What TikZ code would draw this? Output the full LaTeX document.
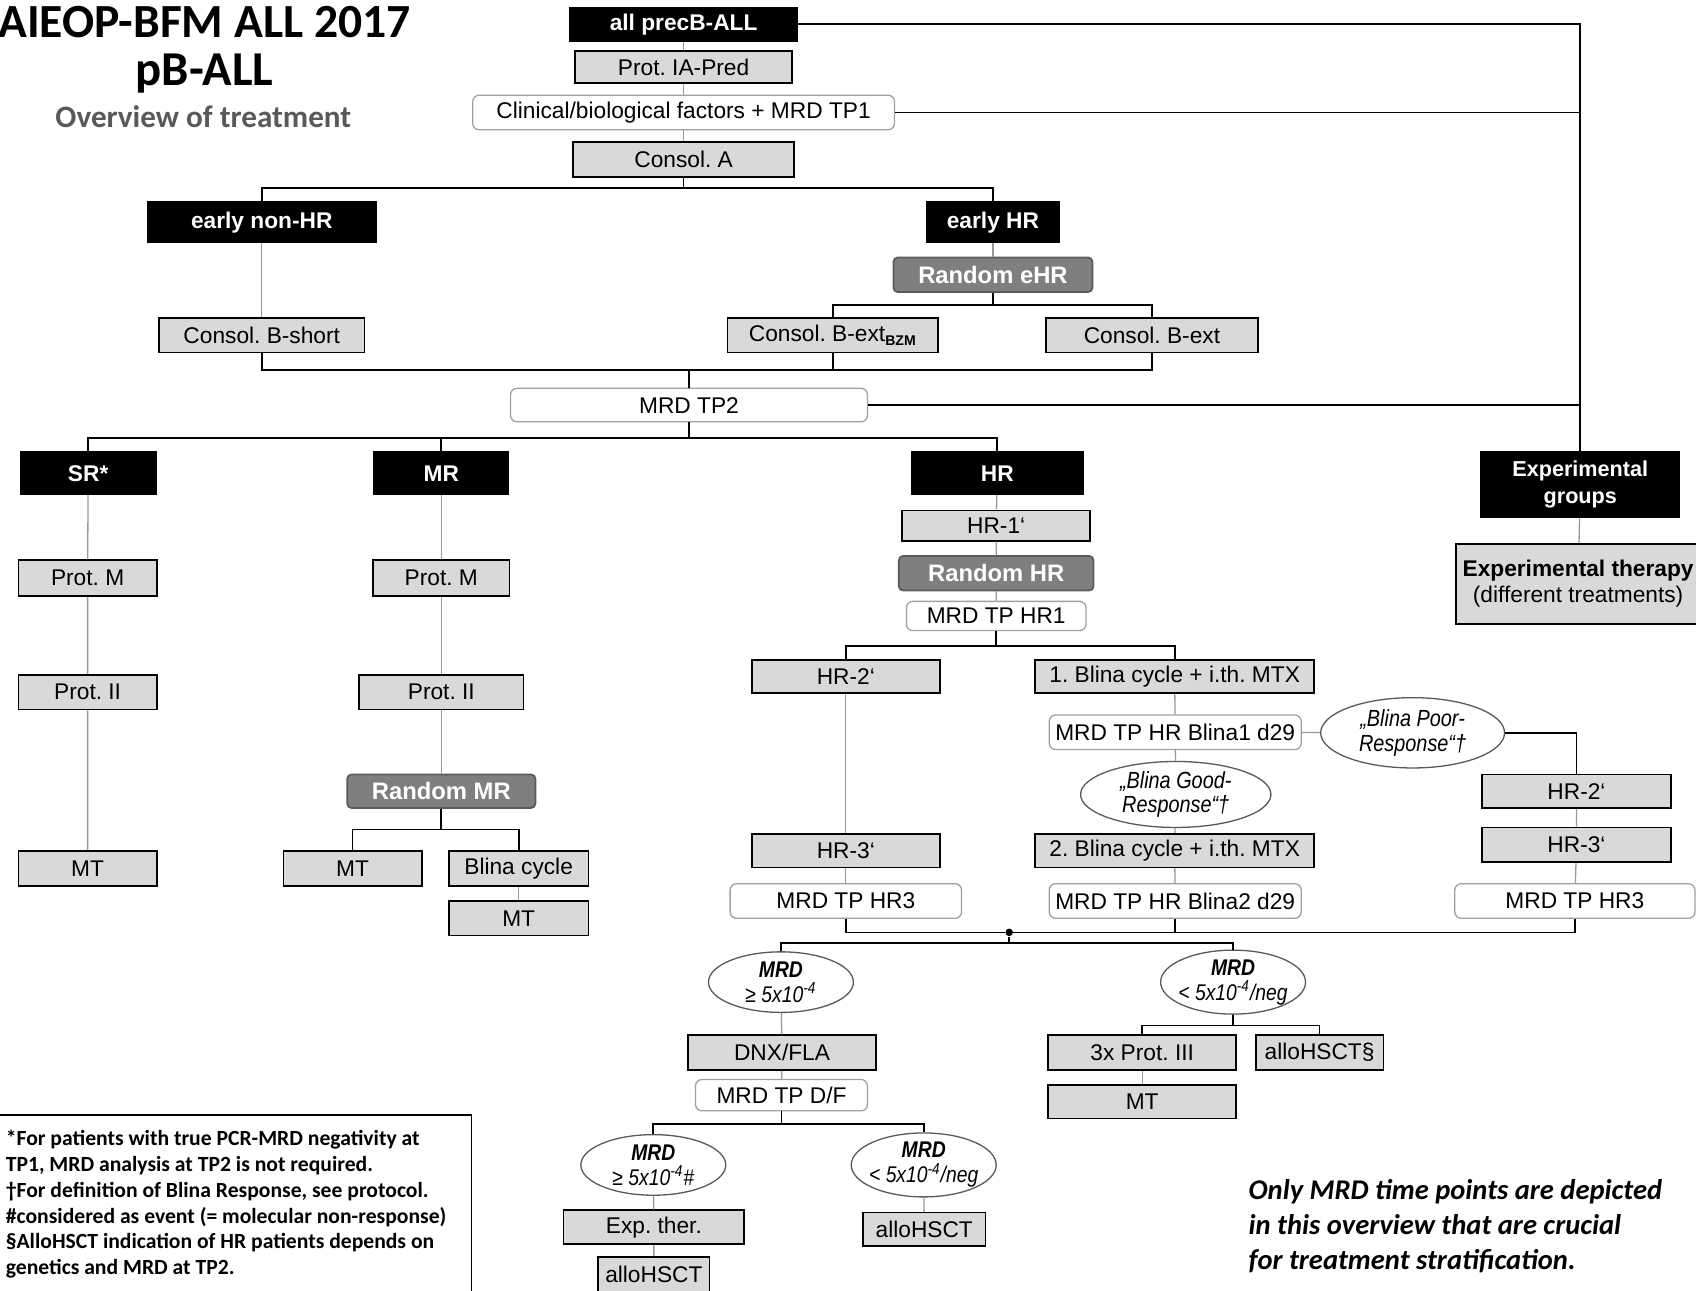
\documentclass[tikz,border=0pt]{standalone}
\usepackage{fontspec}
\setmainfont{Liberation Sans}
\newfontfamily\carlito{Carlito}
\newfontfamily\narrowit[FakeStretch=0.85]{Liberation Sans}
\usetikzlibrary{shapes.geometric}
\frenchspacing

\definecolor{boxgray}{HTML}{D9D9D9}
\definecolor{randgray}{HTML}{7F7F7F}
\definecolor{randedge}{HTML}{5A5A5A}
\definecolor{tpedge}{HTML}{A0A0A0}
\definecolor{titlegray}{HTML}{595959}
\newcommand\bxfont{\fontsize{10.5}{12}\selectfont}

\tikzset{
  gbox/.style={draw=black, line width=0.8pt, fill=boxgray, font=\bxfont, inner sep=0pt,
    minimum height=16pt, minimum width={#1*0.5pt}},
  hbox/.style={gbox=#1, fill=black, text=white, font=\bfseries\bxfont, minimum height=18.5pt},
  rbox/.style={gbox=#1, fill=randgray, draw=randedge, rounded corners=2pt, text=white,
    font=\bfseries\fontsize{11}{13}\selectfont},
  tbox/.style={gbox=#1, fill=white, draw=tpedge, line width=0.6pt, rounded corners=3pt},
  oval/.style={ellipse, draw=black!65, fill=white, line width=0.6pt, inner sep=0pt,
    inner xsep=-6pt, minimum width={#1*0.5pt}, minimum height=28pt, align=center,
    font=\narrowit\itshape\fontsize{10.5}{11.5}\selectfont},
  dot/.style={circle, fill=black, inner sep=0pt, minimum size=3.5pt},
  link/.style={draw=black, line width=0.8pt},
  chain/.style={draw=black!40, line width=0.6pt}
}

\begin{document}
\begin{tikzpicture}[x=0.5pt, y=-0.5pt]
  \useasboundingbox (0,0) rectangle (1568,1193);

  % title
  \node[font=\carlito\bfseries\fontsize{22}{24}\selectfont] (title) at (189,20) {AIEOP-BFM ALL 2017};
  \node[font=\carlito\bfseries\fontsize{22.5}{24}\selectfont] (sub) at (189,68) {pB-ALL};
  \node[font=\carlito\bfseries\fontsize{14.4}{16}\selectfont, text=titlegray] (over) at (188,108) {Overview of treatment};

  % induction and early groups
  \node[hbox=210, minimum height=15.5pt] (all) at (632,22.5) {all precB-ALL};
  \node[gbox=201, minimum height=15pt] (ia) at (632,62) {Prot. IA-Pred};
  \node[tbox=390] (clin) at (632,104) {Clinical/biological factors + MRD TP1};
  \node[gbox=204] (consA) at (632,147.5) {Consol. A};
  \node[hbox=211] (enhr) at (242,205.5) {early non-HR};
  \node[hbox=123] (ehr) at (918,205.5) {early HR};
  \node[rbox=184] (rehr) at (918,254) {Random eHR};
  \node[gbox=190] (bshort) at (242,310) {Consol. B-short};
  \node[gbox=195] (bbzm) at (770,310) {Consol. B-ext\textsubscript{\bfseries\fontsize{6.5}{7}\selectfont BZM}};
  \node[gbox=196] (bext) at (1065,310) {Consol. B-ext};
  \node[tbox=330, minimum height=15.5pt] (tp2) at (637,374.5) {MRD TP2};

  % risk groups
  \node[hbox=125, minimum height=19.5pt] (sr) at (81.5,437.5) {SR*};
  \node[hbox=124, minimum height=19.5pt] (mr) at (408,437.5) {MR};
  \node[hbox=158, minimum height=19.5pt] (hr) at (922,437.5) {HR};
  \node[hbox=183, minimum height=30pt, align=center, font=\bfseries\fontsize{10}{12.5}\selectfont] (expg) at (1461,448) {Experimental\\groups};
  \node[gbox=226, minimum height=37pt, align=center, font=\fontsize{10.5}{12}\selectfont] (expt) at (1459,540) {\bfseries Experimental therapy\\(different treatments)};

  % SR
  \node[gbox=128, minimum height=16.5pt] (srm) at (81,534.5) {Prot. M};
  \node[gbox=128] (sr2) at (81,640) {Prot. II};
  \node[gbox=128] (srmt) at (81,803) {MT};

  % MR
  \node[gbox=126, minimum height=16.5pt] (mrm) at (408,534.5) {Prot. M};
  \node[gbox=152] (mr2) at (408,640) {Prot. II};
  \node[rbox=174, minimum height=15.5pt] (rmr) at (408,731.5) {Random MR};
  \node[gbox=128] (mrmt) at (326,803) {MT};
  \node[gbox=129] (mrbl) at (479.5,803) {Blina cycle};
  \node[gbox=129] (mrmt2) at (479.5,849) {MT};

  % HR
  \node[gbox=174, minimum height=14pt] (hr1) at (921,486) {HR-1‘};
  \node[rbox=180] (rhr) at (921,530) {Random HR};
  \node[tbox=166, minimum height=13.5pt] (tphr1) at (921,569.5) {MRD TP HR1};
  \node[gbox=174, minimum height=15.5pt] (hr2) at (782,625.5) {HR-2‘};
  \node[gbox=258, minimum height=15.5pt] (bl1) at (1086,625.5) {1. Blina cycle + i.th. MTX};
  \node[tbox=233] (tpbl1) at (1086.5,677) {MRD TP HR Blina1 d29};
  \node[oval=176, minimum height=28.5pt, font=\narrowit\itshape\fontsize{10.8}{11.5}\selectfont] (good) at (1087,734.5) {„Blina Good-\\Response“†};
  \node[gbox=258, minimum height=15.5pt] (bl2) at (1086,786.5) {2. Blina cycle + i.th. MTX};
  \node[tbox=233] (tpbl2) at (1086.5,833) {MRD TP HR Blina2 d29};
  \node[gbox=174, minimum height=15.5pt] (hr3) at (782,786.5) {HR-3‘};
  \node[tbox=214] (tphr3) at (782,833) {MRD TP HR3};
  \node[oval=170, minimum height=32.5pt, font=\narrowit\itshape\fontsize{10.8}{11.5}\selectfont] (poor) at (1306,677.5) {„Blina Poor-\\Response“†};
  \node[gbox=175, minimum height=15.5pt] (hr2r) at (1457.5,731.5) {HR-2‘};
  \node[gbox=175] (hr3r) at (1457.5,781) {HR-3‘};
  \node[tbox=222] (tphr3r) at (1456,833) {MRD TP HR3};

  % after HR blocks
  \node[dot] (j) at (933,862) {};
  \node[oval=134] (mge) at (722,908) {\bfseries MRD\\≥ 5x10\textsuperscript{-4}};
  \node[oval=134] (mlt) at (1140,908) {\bfseries MRD\\< 5x10\textsuperscript{-4}/neg};
  \node[gbox=174] (dnx) at (723,973) {DNX/FLA};
  \node[tbox=159, minimum height=14.5pt] (tpdf) at (722.5,1012.5) {MRD TP D/F};
  \node[oval=134] (mge2) at (604,1077) {\bfseries MRD\\≥ 5x10\textsuperscript{-4}\#};
  \node[oval=134] (mlt2) at (854,1077) {\bfseries MRD\\< 5x10\textsuperscript{-4}/neg};
  \node[gbox=167, minimum height=15.5pt] (expth) at (604.5,1134.5) {Exp. ther.};
  \node[gbox=103] (allo1) at (604.5,1178) {alloHSCT};
  \node[gbox=113, minimum height=15.5pt] (allo2) at (854.5,1136.5) {alloHSCT};
  \node[gbox=174] (prot3) at (1056,973) {3x Prot. III};
  \node[gbox=118] (allos) at (1220,973) {alloHSCT§};
  \node[gbox=174, minimum height=15.5pt] (mt3) at (1056,1018.5) {MT};

  % notes
  \draw[line width=0.8pt] (-5,1031) rectangle (436,1210);
  \node[anchor=north west, inner sep=0pt, align=left, font=\carlito\bfseries\fontsize{10}{12}\selectfont] (foot) at (5,1044)
    {*For patients with true PCR-MRD negativity at\\TP1, MRD analysis at TP2 is not required.\\†For definition of Blina Response, see protocol.\\\#considered as event (= molecular non-response)\\§AlloHSCT indication of HR patients depends on\\genetics and MRD at TP2.};
  \node[anchor=north west, inner sep=0pt, align=left, font=\carlito\bfseries\itshape\fontsize{13.2}{16.25}\selectfont] (only) at (1154,1090)
    {Only MRD time points are depicted\\in this overview that are crucial\\for treatment stratification.};

  % connectors
  \coordinate (rt) at (1461,22.5);
  \draw[link] (all) -- (rt) -- (expg);
  \draw[link] (clin) -- (clin -| rt);
  \draw[link] (tp2) -- (tp2 -| rt);
  \draw[chain] (all) -- (ia) -- (clin) -- (consA);
  \coordinate (s1) at (632,174);
  \draw[link] (consA) -- (s1) (s1) -| (enhr) (s1) -| (ehr);
  \draw[chain] (enhr) -- (bshort);
  \draw[chain] (ehr) -- (rehr);
  \coordinate (s2) at (918,282);
  \draw[link] (rehr) -- (s2) (s2) -| (bbzm) (s2) -| (bext);
  \coordinate (s3) at (637,342);
  \draw[link] (bshort) |- (s3) (bext) |- (s3) (bbzm) -- (bbzm |- s3) (s3) -- (tp2);
  \coordinate (s4) at (637,405);
  \draw[link] (tp2) -- (s4) (s4) -| (sr) (s4) -| (mr) (s4) -| (hr);
  \draw[chain] (expg) -- (expt);
  \draw[chain] (sr) -- (srm) -- (sr2) -- (srmt);
  \draw[chain] (mr) -- (mrm) -- (mr2) -- (rmr);
  \coordinate (s5) at (408,767);
  \draw[link] (rmr) -- (s5) (s5) -| (mrmt) (s5) -| (mrbl);
  \draw[chain] (mrbl) -- (mrmt2);
  \draw[chain] (hr) -- (hr1) -- (rhr) -- (tphr1);
  \coordinate (s6) at (921,597);
  \draw[link] (tphr1) -- (s6) (s6) -| (hr2) (s6) -| (bl1);
  \draw[chain] (hr2) -- (hr3) -- (tphr3);
  \draw[chain] (bl1) -- (tpbl1) -- (good) -- (bl2) -- (tpbl2);
  \draw[chain] (tpbl1) -- (poor);
  \draw[link] (poor) -| (hr2r);
  \draw[chain] (hr2r) -- (hr3r) -- (tphr3r);
  \draw[link] (tphr3) |- (j) (tphr3r) |- (j) (tpbl2) -- (tpbl2 |- j);
  \coordinate (s7) at (933,872);
  \draw[link] (j) -- (s7) (s7) -| (mge) (s7) -| (mlt);
  \draw[chain] (mge) -- (dnx) -- (tpdf);
  \coordinate (s8) at (722.5,1039);
  \draw[link] (tpdf) -- (s8) (s8) -| (mge2) (s8) -| (mlt2);
  \draw[chain] (mge2) -- (expth) -- (allo1);
  \draw[chain] (mlt2) -- (allo2);
  \coordinate (s9) at (1140,948);
  \draw[link] (mlt) -- (s9) (s9) -| (prot3) (s9) -| (allos);
  \draw[chain] (prot3) -- (mt3);
\end{tikzpicture}
\end{document}
